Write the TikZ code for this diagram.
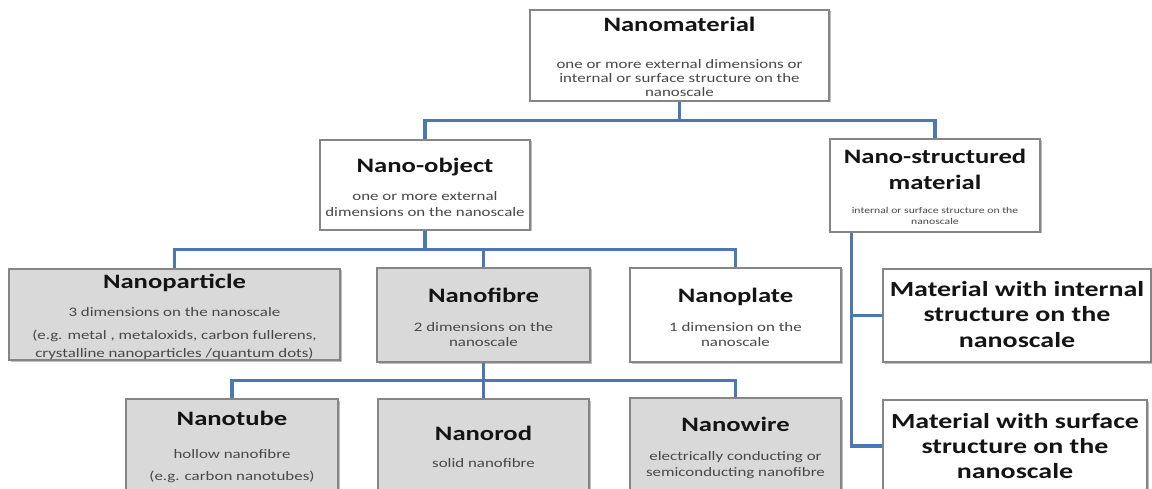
\documentclass[tikz,border=0pt]{standalone}
\usepackage{fontspec}
\setmainfont{Carlito}[FakeStretch=1.3]
\usetikzlibrary{calc,shadows}
\definecolor{linkblue}{HTML}{4A78B4}
\definecolor{boxgray}{HTML}{D9D9D9}
\definecolor{bordergray}{HTML}{858585}
\definecolor{subgray}{HTML}{484848}
\definecolor{ttlblack}{HTML}{141414}
\tikzset{
  box/.style={draw=bordergray, line width=1.2pt, fill=white, inner sep=0pt,
    drop shadow={shadow xshift=1.5pt, shadow yshift=-1.5pt, fill=black, opacity=0.25}},
  graybox/.style={box, fill=boxgray},
  link/.style={draw=linkblue, line width=3.5pt},
  ttltext/.style={anchor=base, inner sep=0pt, text=ttlblack, font=\fontsize{20.5}{24}\selectfont\bfseries},
  bigtext/.style={anchor=base, inner sep=0pt, text=ttlblack, font=\fontsize{21.5}{25}\selectfont\bfseries},
  subtext/.style={anchor=base, inner sep=0pt, text=subgray, font=\fontsize{13}{15}\selectfont},
  tinytext/.style={anchor=base, inner sep=0pt, text=subgray, font=\fontsize{9}{11}\selectfont},
}
\begin{document}
\begin{tikzpicture}[x=1pt,y=-1pt]
\useasboundingbox (0,0) rectangle (1152,489);
\clip (0,0) rectangle (1152,489);
% ---------- boxes ----------
\node[box, minimum width=299pt, minimum height=91pt] (nm) at (679.5,55.5) {};
\node[box, minimum width=210pt, minimum height=90pt] (no) at (425,185) {};
\node[box, minimum width=210pt, minimum height=93pt] (ns) at (935,185.5) {};
\node[graybox, minimum width=331pt, minimum height=91pt] (np) at (174.5,314.5) {};
\node[graybox, minimum width=213pt, minimum height=94pt] (nf) at (483.5,315) {};
\node[box, minimum width=211pt, minimum height=94pt] (npl) at (735.5,315) {};
\node[box, minimum width=268pt, minimum height=93pt] (mi) at (1017,315.5) {};
\node[box, minimum width=264pt, minimum height=92pt] (ms) at (1015,446) {};
\node[graybox, minimum width=212pt, minimum height=100pt] (nt) at (232,449) {};
\node[graybox, minimum width=211pt, minimum height=100pt] (nr) at (483.5,449) {};
\node[graybox, minimum width=211pt, minimum height=100pt] (nw) at (735.5,448) {};
% ---------- texts ----------
\node[ttltext] (nmT) at (679.5,32) {Nanomaterial};
\node[subtext] (nmS1) at (679.5,69) {one or more external dimensions or};
\node[subtext] (nmS2) at (679.5,83) {internal or surface structure on the};
\node[subtext] (nmS3) at (679.5,97) {nanoscale};
\node[ttltext] (noT) at (425,173) {Nano-object};
\node[subtext] (noS1) at (425,200.5) {one or more external};
\node[subtext] (noS2) at (425,216.5) {dimensions on the nanoscale};
\node[ttltext] (nsT1) at (935,163.3) {Nano-structured};
\node[ttltext] (nsT2) at (935,189.3) {material};
\node[tinytext] (nsS1) at (935,214) {internal or surface structure on the};
\node[tinytext] (nsS2) at (935,225) {nanoscale};
\node[ttltext] (npT) at (174.5,288.5) {Nanoparticle};
\node[subtext] (npS1) at (174.5,316.7) {3 dimensions on the nanoscale};
\node[subtext] (npS2) at (174.5,339) {(e.g. metal , metaloxids, carbon fullerens,};
\node[subtext] (npS3) at (174.5,357.5) {crystalline nanoparticles /quantum dots)};
\node[ttltext] (nfT) at (483.5,302.5) {Nanofibre};
\node[subtext] (nfS1) at (483.5,331.7) {2 dimensions on the};
\node[subtext] (nfS2) at (483.5,346) {nanoscale};
\node[ttltext] (nplT) at (735.5,302.5) {Nanoplate};
\node[subtext] (nplS1) at (735.5,331.7) {1 dimension on the};
\node[subtext] (nplS2) at (735.5,346) {nanoscale};
\node[bigtext] (miT1) at (1017,296.7) {Material with internal};
\node[bigtext] (miT2) at (1017,321.7) {structure on the};
\node[bigtext] (miT3) at (1017,347) {nanoscale};
\node[bigtext] (msT1) at (1015,428.3) {Material with surface};
\node[bigtext] (msT2) at (1015,453.3) {structure on the};
\node[bigtext] (msT3) at (1015,478.3) {nanoscale};
\node[ttltext] (ntT) at (232,425.5) {Nanotube};
\node[subtext] (ntS1) at (232,458.3) {hollow nanofibre};
\node[subtext] (ntS2) at (232,480) {(e.g. carbon nanotubes)};
\node[ttltext] (nrT) at (483.5,440.5) {Nanorod};
\node[subtext] (nrS1) at (483.5,467.3) {solid nanofibre};
\node[ttltext] (nwT) at (735.5,431) {Nanowire};
\node[subtext] (nwS1) at (735.5,460.7) {electrically conducting or};
\node[subtext] (nwS2) at (735.5,476.5) {semiconducting nanofibre};
% ---------- connectors ----------
\draw[link] (nm.south) |- ($(nm.south)!0.5!(no.north)$) -| (no.north);
\draw[link] (nm.south) |- ($(nm.south)!0.5!(no.north)$) -| (ns.north);
\draw[link] (no.south) |- ($(no.south)!0.5!(np.north)$) -| (np.north);
\draw[link] (no.south) |- ($(no.south)!0.5!(np.north)$) -| (nf.north);
\draw[link] (no.south) |- ($(no.south)!0.5!(np.north)$) -| (npl.north);
\coordinate (nsb) at ($(ns.south west)+(22,0)$);
\draw[link] (nsb) |- (mi.west);
\draw[link] (nsb) |- (ms.west);
\draw[link] (nf.south) |- ($(nf.south)!0.5!(nt.north)$) -| (nt.north);
\draw[link] (nf.south) |- ($(nf.south)!0.5!(nt.north)$) -| (nr.north);
\draw[link] (nf.south) |- ($(nf.south)!0.5!(nt.north)$) -| (nw.north);
\end{tikzpicture}
\end{document}
